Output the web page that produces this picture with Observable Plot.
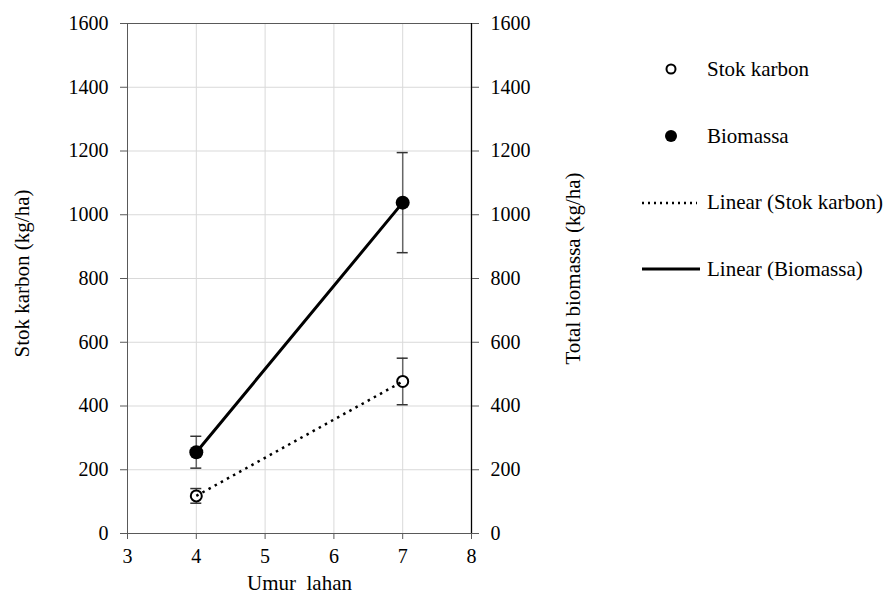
<!DOCTYPE html>
<html>
<head>
<meta charset="utf-8">
<script src="https://cdn.jsdelivr.net/npm/d3@7"></script>
<script src="https://cdn.jsdelivr.net/npm/@observablehq/plot@0.6"></script>
<style>
  body { margin: 0; background: white; }
  #wrap { position: relative; width: 889px; height: 601px; background: white; }
  #legend { position: absolute; left: 640px; top: 36px; font-family: "Liberation Serif", "Times New Roman", Times, serif; font-size: 21px; color: #000; }
  .row { height: 66.7px; display: flex; align-items: center; }
  .row svg { width: 60px; height: 20px; flex: none; }
  .row span { margin-left: 7px; white-space: nowrap; }
</style>
</head>
<body>
<div id="wrap"><div id="legend"></div></div>
<script>
// ---- data ----
const umurLahan = [4, 7];
const stokKarbon = [118, 477];
const stokKarbonErr = [23, 73];
const biomassa = [255, 1038];
const biomassaErr = [50, 157];
const xTicks = [3, 4, 5, 6, 7, 8];
const yTicks = [0, 200, 400, 600, 800, 1000, 1200, 1400, 1600];
const legendLabels = ["Stok karbon", "Biomassa", "Linear (Stok karbon)", "Linear (Biomassa)"];
const xTitle = "Umur\u00a0 lahan";
const yLeftTitle = "Stok karbon (kg/ha)";
const yRightTitle = "Total biomassa (kg/ha)";

const stok = umurLahan.map((x, i) => ({x, y: stokKarbon[i], e: stokKarbonErr[i]}));
const bio = umurLahan.map((x, i) => ({x, y: biomassa[i], e: biomassaErr[i]}));
const all = stok.concat(bio);
const capHalf = 0.08;
const fmt = d => String(d);

const chart = Plot.plot({
  width: 889,
  height: 601,
  marginLeft: 127,
  marginRight: 418,
  marginTop: 23,
  marginBottom: 68,
  style: {fontFamily: "'Liberation Serif', 'Times New Roman', Times, serif", fontSize: "20px", color: "#000", background: "white"},
  x: {domain: [3, 8]},
  y: {domain: [0, 1600]},
  marks: [
    Plot.gridX(xTicks.slice(1, -1), {stroke: "#d9d9d9", strokeOpacity: 1}),
    Plot.gridY(yTicks.slice(1), {stroke: "#d9d9d9", strokeOpacity: 1}),
    Plot.frame({stroke: "#595959"}),
    Plot.ruleX([8], {stroke: "#000", strokeWidth: 1.3}),
    Plot.axisX(xTicks, {tickSize: 6, tickPadding: 9, tickFormat: fmt, label: null, stroke: "#595959", fill: "#000"}),
    Plot.axisY(yTicks, {anchor: "left", tickSize: 7, tickPadding: 12, tickFormat: fmt, label: null, stroke: "#595959", fill: "#000"}),
    Plot.axisY(yTicks, {anchor: "right", tickSize: 7, tickPadding: 12, tickFormat: fmt, label: null, stroke: "#595959", fill: "#000"}),
    Plot.text([xTitle], {frameAnchor: "bottom", dy: 56, fontSize: 21, fill: "#000"}),
    Plot.text([yLeftTitle], {frameAnchor: "left", textAnchor: "middle", rotate: -90, dx: -105, dy: -5, fontSize: 21, fill: "#000"}),
    Plot.text([yRightTitle], {frameAnchor: "right", textAnchor: "middle", rotate: -90, dx: 102, dy: -10, fontSize: 21, fill: "#000"}),
    // error bars
    Plot.ruleX(all, {x: "x", y1: d => d.y - d.e, y2: d => d.y + d.e, stroke: "#666", strokeWidth: 1.5}),
    Plot.ruleY(all, {y: d => d.y + d.e, x1: d => d.x - capHalf, x2: d => d.x + capHalf, stroke: "#333", strokeWidth: 1.5}),
    Plot.ruleY(all, {y: d => d.y - d.e, x1: d => d.x - capHalf, x2: d => d.x + capHalf, stroke: "#333", strokeWidth: 1.5}),
    // markers
    Plot.dot(stok, {x: "x", y: "y", r: 5.5, fill: "white", stroke: "#000", strokeWidth: 2}),
    Plot.dot(bio, {x: "x", y: "y", r: 7, fill: "#000", stroke: "none"}),
    // trendlines
    Plot.line(stok, {x: "x", y: "y", stroke: "#000", strokeWidth: 2.5, strokeDasharray: "2.5,4.5", strokeLinecap: "butt"}),
    Plot.line(bio, {x: "x", y: "y", stroke: "#000", strokeWidth: 3})
  ]
});
document.getElementById("wrap").prepend(chart);

// ---- legend ----
const swatches = [
  '<circle cx="31" cy="10" r="4.5" fill="white" stroke="#000" stroke-width="2"/>',
  '<circle cx="31" cy="10" r="6" fill="#000"/>',
  '<line x1="2" y1="10" x2="57" y2="10" stroke="#000" stroke-width="2.5" stroke-dasharray="2,4"/>',
  '<line x1="2" y1="10" x2="60" y2="10" stroke="#000" stroke-width="3"/>'
];
const legend = document.getElementById("legend");
legendLabels.forEach((lab, i) => {
  const row = document.createElement("div");
  row.className = "row";
  row.innerHTML = `<svg viewBox="0 0 60 20">${swatches[i]}</svg><span></span>`;
  row.querySelector("span").textContent = lab;
  legend.appendChild(row);
});
</script>
</body>
</html>
